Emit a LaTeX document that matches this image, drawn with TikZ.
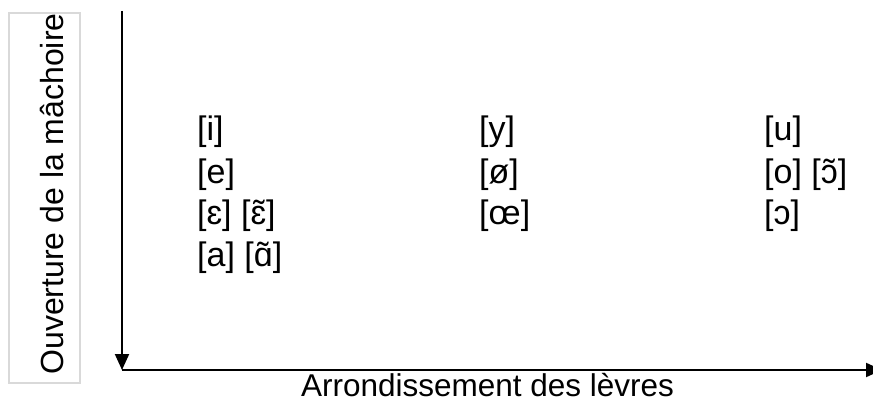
\documentclass[tikz,border=0pt]{standalone}
\usepackage{fontspec}
\setmainfont{Liberation Sans}
\usetikzlibrary{arrows.meta}
\tikzset{
  axis/.style={line width=2pt, -{Triangle[width=14pt,length=16pt]}},
  vowel/.style={anchor=base west, inner sep=0pt, font=\fontsize{34}{36}\selectfont},
  axislabel/.style={anchor=base, inner sep=0pt, font=\fontsize{32}{34}\selectfont},
  labelbox/.style={draw=black!15, line width=2pt, minimum width=71pt, minimum height=370pt, inner sep=0pt}
}
\begin{document}
\begin{tikzpicture}[x=1pt,y=-1pt]
\useasboundingbox (0,0) rectangle (873,401);
\coordinate (top) at (122,11);
\coordinate (O) at (122,370);
\coordinate (right) at (882,370);
\node[labelbox] (ybox) at (44.5,198) {};
\node[axislabel, rotate=90] (ylab) at (63,194) {Ouverture de la mâchoire};
\draw[axis] (top) -- (O);
\draw[axis] (O) -- (right);
\node[axislabel, font=\fontsize{31.5}{33}\selectfont] (xlab) at (487.5,396) {Arrondissement des lèvres};
% column 1
\node[vowel] (i) at (197,141) {[i]};
\node[vowel] (e) at (197,183) {[e]};
\node[vowel] (eps) at (197,224) {[ɛ] [ɛ̃]};
\node[vowel] (a) at (197,266) {[a] [ɑ̃]};
% column 2
\node[vowel] (y) at (479,141) {[y]};
\node[vowel] (oslash) at (479,183) {[ø]};
\node[vowel] (oe) at (479,224) {[œ]};
% column 3
\node[vowel] (u) at (764,141) {[u]};
\node[vowel] (o) at (764,183) {[o] [ɔ̃]};
\node[vowel] (openo) at (764,224) {[ɔ]};
\end{tikzpicture}
\end{document}
